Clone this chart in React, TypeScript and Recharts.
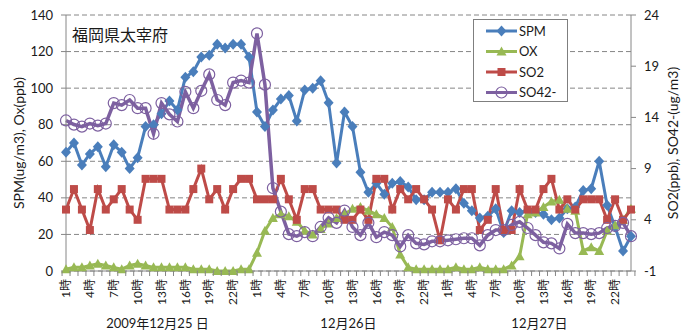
import React from 'react';
import { ComposedChart, Line, XAxis, YAxis, CartesianGrid, Legend } from 'recharts';

// hour categories and day captions
const hours = [
  '1時', '2時', '3時', '4時', '5時', '6時', '7時', '8時', '9時', '10時', '11時', '12時',
  '13時', '14時', '15時', '16時', '17時', '18時', '19時', '20時', '21時', '22時', '23時', '24時',
];
const days = ['2009年12月25 日', '12月26日', '12月27日'];
const seriesNames = ['SPM', 'OX', 'SO2', 'SO42-'];

// SPM (ug/m3), left axis
const spm = [
  65, 70, 58, 64, 68, 57, 69, 65, 56, 62, 79, 80,
  86, 93, 88, 106, 109, 117, 118, 124, 122, 124, 124, 117,
  87, 79, 88, 94, 96, 82, 99, 100, 104, 92, 59, 87,
  79, 54, 43, 48, 42, 48, 49, 46, 39, 39, 43, 43,
  43, 45, 37, 33, 29, 30, 34, 21, 33, 32, 33, 32,
  31, 28, 29, 34, 35, 44, 45, 60, 36, 24, 11, 19,
];

// OX (ppb), left axis
const ox = [
  1, 2, 2, 3, 4, 3, 2, 1, 3, 4, 3, 2,
  2, 2, 2, 2, 1, 1, 1, 0, 0, 0, 1, 1,
  10, 22, 29, 31, 30, 27, 22, 20, 23, 26, 29, 31,
  34, 35, 33, 31, 29, 24, 9, 2, 1, 1, 1, 1,
  1, 2, 1, 1, 2, 1, 1, 1, 3, 8, 31, 32,
  35, 38, 39, 34, 33, 11, 13, 11, 22, 25, 28, 34,
];

// SO2 (ppb), right axis
const so2 = [
  5, 7, 5, 3, 7, 5, 6, 7, 5, 4, 8, 8,
  8, 5, 5, 5, 7, 9, 6, 7, 5, 7, 8, 8,
  6, 6, 6, 8, 6, 4, 7, 7, 5, 5, 5, 4,
  4, 5, 4, 8, 8, 5, 7, 6, 7, 6, 5, 2,
  6, 5, 7, 7, 3, 4, 7, 3, 3, 7, 5, 5,
  7, 8, 5, 6, 5, 6, 6, 6, 4, 6, 4, 5,
];

// SO42- (ug/m3), right axis
const so42 = [
  13.7, 13.3, 13.1, 13.4, 13.2, 13.4, 15.4, 15.2, 15.7, 14.9, 14.9, 12.4,
  15.4, 14.3, 13.6, 16.5, 14.9, 16.6, 18.2, 15.7, 15.2, 17.4, 17.6, 17.4,
  22.2, 17.2, 7.1, 4.8, 2.6, 2.4, 2.8, 2.4, 3.3, 4.2, 3.7, 4.9,
  3.3, 2.5, 3.7, 2.3, 2.8, 2.5, 1.4, 2.5, 1.7, 1.6, 1.9, 1.9,
  2.0, 2.1, 2.2, 2.2, 1.5, 2.5, 3.0, 3.0, 3.5, 3.8, 3.2, 2.5,
  1.8, 1.7, 1.2, 3.6, 2.7, 2.7, 2.6, 2.7, 3.2, 3.4, 3.7, 2.4,
];

const leftTicks = [0, 20, 40, 60, 80, 100, 120, 140];
const rightTicks = [-1, 4, 9, 14, 19, 24];

const data = spm.map((v, i) => ({
  hour: hours[i % 24],
  day: i % 24 === 11 ? days[Math.floor(i / 24)] : '',
  SPM: v,
  OX: ox[i],
  SO2: so2[i],
  'SO42-': so42[i],
}));

const W = 683;
const H = 336;
const LEFT_W = 66;
const RIGHT_W = 52;
const BAND = (W - LEFT_W - RIGHT_W) / data.length;
const AXIS = '#868686';
const TEXT = '#1a1a1a';
const FONT = 'Lato, "Noto Sans CJK JP", sans-serif';

const COLORS: Record<string, string> = {
  SPM: '#4A7EBB',
  OX: '#98B954',
  SO2: '#BE4B48',
  'SO42-': '#7D60A0',
};
const SHAPES: Record<string, string> = {
  SPM: 'diamond',
  OX: 'triangle',
  SO2: 'square',
  'SO42-': 'circle',
};

const Marker = ({ shape, x, y, color }: { shape: string; x: number; y: number; color: string }) => {
  if (shape === 'diamond') {
    return <polygon points={`${x},${y - 5.5} ${x + 5},${y} ${x},${y + 5.5} ${x - 5},${y}`} fill={color} />;
  }
  if (shape === 'triangle') {
    return <polygon points={`${x},${y - 5} ${x + 5},${y + 4} ${x - 5},${y + 4}`} fill={color} />;
  }
  if (shape === 'square') {
    return <rect x={x - 4} y={y - 4} width={8} height={8} fill={color} />;
  }
  return <circle cx={x} cy={y} r={5.5} fill="none" stroke={color} strokeWidth={1.2} />;
};

const makeDot = (name: string) => (props: any) => {
  const { cx, cy, index } = props;
  if (cx == null || cy == null) return <g key={`${name}-${index}`} />;
  return (
    <g key={`${name}-${index}`}>
      <Marker shape={SHAPES[name]} x={cx} y={cy} color={COLORS[name]} />
    </g>
  );
};

const HourTick = (props: any) => {
  const { x, y, payload, index } = props;
  const half = BAND / 2;
  return (
    <g>
      <line x1={x - half} y1={y} x2={x - half} y2={y + 5} stroke={AXIS} />
      {index === data.length - 1 && <line x1={x + half} y1={y} x2={x + half} y2={y + 5} stroke={AXIS} />}
      {index % 3 === 0 && (
        <text
          transform={`translate(${x},${y + 8}) rotate(-90)`}
          textAnchor="end"
          dy="0.35em"
          fontSize={12}
          fontFamily={FONT}
          fill={TEXT}
        >
          {payload.value}
        </text>
      )}
    </g>
  );
};

const DayTick = (props: any) => {
  const { x, y, payload } = props;
  if (!payload.value) return <g />;
  return (
    <text x={x + BAND / 2} y={y + 12} dy="0.35em" textAnchor="middle" fontSize={13} fontFamily={FONT} fill={TEXT}>
      {payload.value}
    </text>
  );
};

// legend box drawn like the spreadsheet one, in series order
const renderLegend = (props: any) => {
  const items = [...((props.payload || []) as any[])].sort(
    (a, b) => seriesNames.indexOf(a.value) - seriesNames.indexOf(b.value),
  );
  return (
    <svg width={95} height={83} style={{ display: 'block' }}>
      <rect x={0.5} y={0.5} width={94} height={82} fill="#fff" stroke="#7f7f7f" />
      {items.map((it, i) => {
        const name = it.value as string;
        const cy = 12 + i * 20.5;
        return (
          <g key={name}>
            <line x1={13} y1={cy} x2={44} y2={cy} stroke={COLORS[name]} strokeWidth={3} />
            <Marker shape={SHAPES[name]} x={28.5} y={cy} color={COLORS[name]} />
            <text x={46} y={cy} dy="0.35em" fontSize={13} fontFamily={FONT} fill={TEXT}>
              {name}
            </text>
          </g>
        );
      })}
    </svg>
  );
};

export default function App() {
  return (
    <div style={{ position: 'absolute', left: 0, top: 0, width: W, height: H, background: '#fff', fontFamily: FONT }}>
      <ComposedChart width={W} height={H} data={data} margin={{ top: 15, right: 0, bottom: 0, left: 0 }}>
        <CartesianGrid vertical={false} strokeDasharray="5 3" stroke={AXIS} />
        <XAxis
          dataKey="hour"
          interval={0}
          height={40}
          tickLine={false}
          tickSize={0}
          tickMargin={0}
          axisLine={{ stroke: AXIS }}
          tick={HourTick}
        />
        <XAxis
          xAxisId="day"
          dataKey="day"
          interval={0}
          height={25}
          tickLine={false}
          tickSize={0}
          tickMargin={0}
          axisLine={false}
          tick={DayTick}
        />
        <YAxis
          width={LEFT_W}
          domain={[0, 140]}
          ticks={leftTicks}
          interval={0}
          tickSize={5}
          tickMargin={8}
          axisLine={{ stroke: AXIS }}
          tickLine={{ stroke: AXIS }}
          tick={{ fontSize: 13, fill: TEXT, fontFamily: FONT }}
        />
        <YAxis
          yAxisId="right"
          orientation="right"
          width={RIGHT_W}
          domain={[-1, 24]}
          ticks={rightTicks}
          interval={0}
          tickSize={5}
          tickMargin={8}
          axisLine={{ stroke: AXIS }}
          tickLine={{ stroke: AXIS }}
          tick={{ fontSize: 13, fill: TEXT, fontFamily: FONT }}
        />
        <Legend
          layout="vertical"
          align="center"
          verticalAlign="middle"
          wrapperStyle={{ left: 473, top: 19, width: 95, height: 83 }}
          content={renderLegend}
        />
        <Line type="linear" dataKey="SPM" stroke={COLORS.SPM} strokeWidth={3} dot={makeDot('SPM')} isAnimationActive={false} />
        <Line type="linear" dataKey="OX" stroke={COLORS.OX} strokeWidth={3} dot={makeDot('OX')} isAnimationActive={false} />
        <Line type="linear" dataKey="SO2" yAxisId="right" stroke={COLORS.SO2} strokeWidth={3} dot={makeDot('SO2')} isAnimationActive={false} />
        <Line type="linear" dataKey="SO42-" yAxisId="right" stroke={COLORS['SO42-']} strokeWidth={3.5} dot={makeDot('SO42-')} isAnimationActive={false} />
      </ComposedChart>
      <div style={{ position: 'absolute', left: 72, top: 22, fontSize: 16, color: TEXT, whiteSpace: 'nowrap' }}>福岡県太宰府</div>
      <div
        style={{
          position: 'absolute', left: 18, top: 143, fontSize: 14, color: TEXT, whiteSpace: 'nowrap',
          transform: 'translate(-50%, -50%) rotate(-90deg)',
        }}
      >
        SPM(ug/m3), Ox(ppb)
      </div>
      <div
        style={{
          position: 'absolute', left: 672, top: 143, fontSize: 14, color: TEXT, whiteSpace: 'nowrap',
          transform: 'translate(-50%, -50%) rotate(-90deg)',
        }}
      >
        SO2(ppb), SO42-(ug/m3)
      </div>
    </div>
  );
}
